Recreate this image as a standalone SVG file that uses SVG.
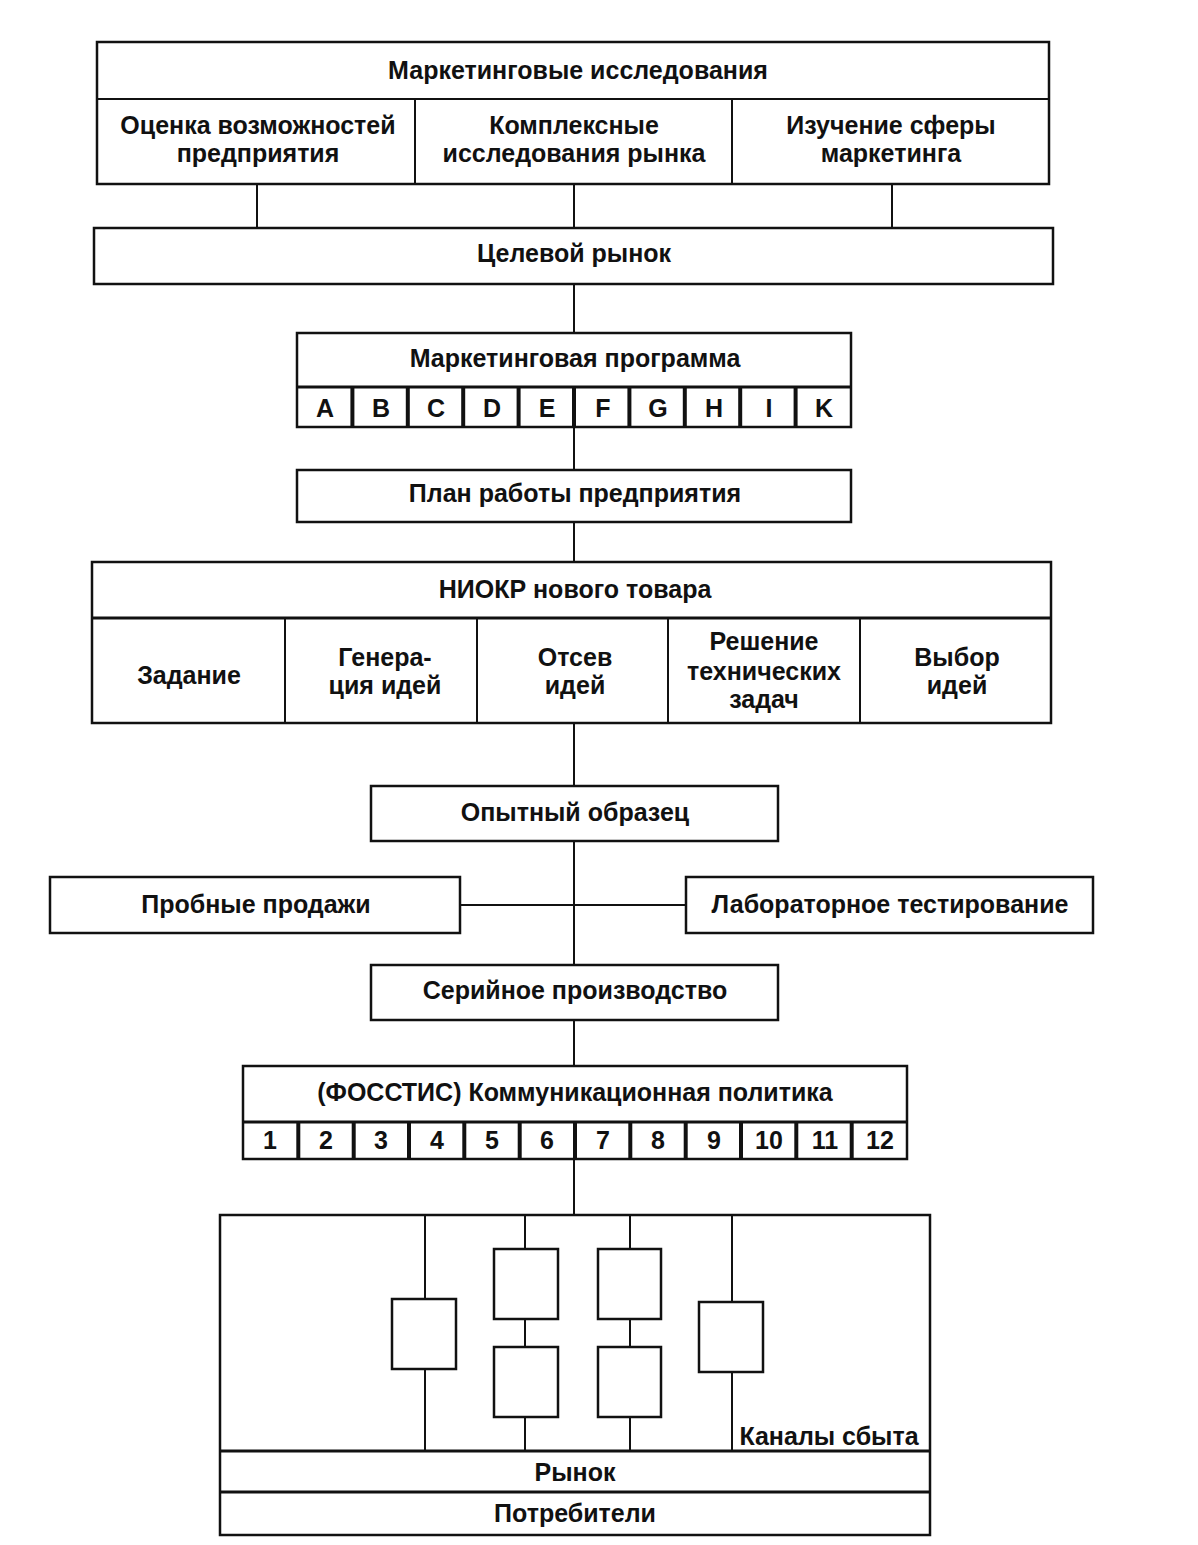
<svg xmlns="http://www.w3.org/2000/svg" width="1198" height="1545" viewBox="0 0 1198 1545">
<style>
.b{fill:#fff;stroke:#111;stroke-width:2.5}
.c{fill:#fff;stroke:#111;stroke-width:3}
.l{stroke:#111;stroke-width:2;fill:none}
.d{stroke:#111;stroke-width:4;fill:none}
text{font-family:"Liberation Sans",Arial,sans-serif;font-weight:bold;font-size:25px;fill:#111;text-anchor:middle}
</style>
<rect width="1198" height="1545" fill="#fff"/>
<g id="connectors">
<line class="l" x1="257" y1="184" x2="257" y2="228"/>
<line class="l" x1="574" y1="184" x2="574" y2="228"/>
<line class="l" x1="892" y1="184" x2="892" y2="228"/>
<line class="l" x1="574" y1="284" x2="574" y2="333"/>
<line class="l" x1="574" y1="427" x2="574" y2="470"/>
<line class="l" x1="574" y1="522" x2="574" y2="562"/>
<line class="l" x1="574" y1="723" x2="574" y2="786"/>
<line class="l" x1="574" y1="841" x2="574" y2="965"/>
<line class="l" x1="460" y1="905" x2="686" y2="905"/>
<line class="l" x1="574" y1="1020" x2="574" y2="1066"/>
<line class="l" x1="574" y1="1159" x2="574" y2="1215"/>
</g>
<g id="research">
<rect class="b" x="97" y="42" width="952" height="142"/>
<line class="l" x1="97" y1="99" x2="1049" y2="99"/>
<line class="l" x1="415" y1="99" x2="415" y2="184"/>
<line class="l" x1="732" y1="99" x2="732" y2="184"/>
<text x="578" y="79">Маркетинговые исследования</text>
<text x="258" y="134">Оценка возможностей</text>
<text x="258" y="162">предприятия</text>
<text x="574" y="134">Комплексные</text>
<text x="574" y="162">исследования рынка</text>
<text x="891" y="134">Изучение сферы</text>
<text x="891" y="162">маркетинга</text>
</g>
<g id="target">
<rect class="b" x="94" y="228" width="959" height="56"/>
<text x="574" y="262">Целевой рынок</text>
</g>
<g id="program">
<rect class="b" x="297" y="333" width="554" height="94"/>
<line class="c" x1="297" y1="387" x2="851" y2="387"/>
<text x="575" y="367">Маркетинговая программа</text>
<line class="d" x1="352.4" y1="387" x2="352.4" y2="427"/>
<line class="d" x1="407.8" y1="387" x2="407.8" y2="427"/>
<line class="d" x1="463.2" y1="387" x2="463.2" y2="427"/>
<line class="d" x1="518.6" y1="387" x2="518.6" y2="427"/>
<line class="d" x1="574" y1="387" x2="574" y2="427"/>
<line class="d" x1="629.4" y1="387" x2="629.4" y2="427"/>
<line class="d" x1="684.8" y1="387" x2="684.8" y2="427"/>
<line class="d" x1="740.2" y1="387" x2="740.2" y2="427"/>
<line class="d" x1="795.6" y1="387" x2="795.6" y2="427"/>
<text x="325" y="417">A</text><text x="381" y="417">B</text><text x="436" y="417">C</text><text x="492" y="417">D</text><text x="547" y="417">E</text><text x="603" y="417">F</text><text x="658" y="417">G</text><text x="714" y="417">H</text><text x="769" y="417">I</text><text x="824" y="417">K</text>
</g>
<g id="plan">
<rect class="b" x="297" y="470" width="554" height="52"/>
<text x="575" y="502">План работы предприятия</text>
</g>
<g id="niokr">
<rect class="b" x="92" y="562" width="959" height="161"/>
<line class="c" x1="92" y1="618" x2="1051" y2="618"/>
<line class="l" x1="285" y1="618" x2="285" y2="723"/>
<line class="l" x1="477" y1="618" x2="477" y2="723"/>
<line class="l" x1="668" y1="618" x2="668" y2="723"/>
<line class="l" x1="860" y1="618" x2="860" y2="723"/>
<text x="575" y="598">НИОКР нового товара</text>
<text x="189" y="684">Задание</text>
<text x="385" y="666">Генера-</text>
<text x="385" y="694">ция идей</text>
<text x="575" y="666">Отсев</text>
<text x="575" y="694">идей</text>
<text x="764" y="650">Решение</text>
<text x="764" y="680">технических</text>
<text x="764" y="708">задач</text>
<text x="957" y="666">Выбор</text>
<text x="957" y="694">идей</text>
</g>
<g id="prototype">
<rect class="b" x="371" y="786" width="407" height="55"/>
<text x="575" y="821">Опытный образец</text>
</g>
<g id="trial">
<rect class="b" x="50" y="877" width="410" height="56"/>
<text x="256" y="913">Пробные продажи</text>
</g>
<g id="lab">
<rect class="b" x="686" y="877" width="407" height="56"/>
<text x="890" y="913">Лабораторное тестирование</text>
</g>
<g id="serial">
<rect class="b" x="371" y="965" width="407" height="55"/>
<text x="575" y="999">Серийное производство</text>
</g>
<g id="comm">
<rect class="b" x="243" y="1066" width="664" height="93"/>
<line class="c" x1="243" y1="1122" x2="907" y2="1122"/>
<text x="575" y="1101">(ФОССТИС) Коммуникационная политика</text>
<line class="d" x1="298.3" y1="1122" x2="298.3" y2="1159"/>
<line class="d" x1="353.7" y1="1122" x2="353.7" y2="1159"/>
<line class="d" x1="409" y1="1122" x2="409" y2="1159"/>
<line class="d" x1="464.3" y1="1122" x2="464.3" y2="1159"/>
<line class="d" x1="519.7" y1="1122" x2="519.7" y2="1159"/>
<line class="d" x1="575" y1="1122" x2="575" y2="1159"/>
<line class="d" x1="630.3" y1="1122" x2="630.3" y2="1159"/>
<line class="d" x1="685.7" y1="1122" x2="685.7" y2="1159"/>
<line class="d" x1="741" y1="1122" x2="741" y2="1159"/>
<line class="d" x1="796.3" y1="1122" x2="796.3" y2="1159"/>
<line class="d" x1="851.7" y1="1122" x2="851.7" y2="1159"/>
<text x="270" y="1149">1</text><text x="326" y="1149">2</text><text x="381" y="1149">3</text><text x="437" y="1149">4</text><text x="492" y="1149">5</text><text x="547" y="1149">6</text><text x="603" y="1149">7</text><text x="658" y="1149">8</text><text x="714" y="1149">9</text><text x="769" y="1149">10</text><text x="825" y="1149">11</text><text x="880" y="1149">12</text>
</g>
<g id="channels">
<rect class="b" x="220" y="1215" width="710" height="320"/>
<line class="c" x1="220" y1="1451" x2="930" y2="1451"/>
<line class="c" x1="220" y1="1492" x2="930" y2="1492"/>
<line class="l" x1="425" y1="1215" x2="425" y2="1451"/>
<line class="l" x1="525" y1="1215" x2="525" y2="1451"/>
<line class="l" x1="630" y1="1215" x2="630" y2="1451"/>
<line class="l" x1="732" y1="1215" x2="732" y2="1451"/>
<rect class="b" x="392" y="1299" width="64" height="70"/>
<rect class="b" x="494" y="1249" width="64" height="70"/>
<rect class="b" x="494" y="1347" width="64" height="70"/>
<rect class="b" x="598" y="1249" width="63" height="70"/>
<rect class="b" x="598" y="1347" width="63" height="70"/>
<rect class="b" x="699" y="1302" width="64" height="70"/>
<text x="829" y="1445">Каналы сбыта</text>
<text x="575" y="1481">Рынок</text>
<text x="575" y="1522">Потребители</text>
</g>
</svg>
